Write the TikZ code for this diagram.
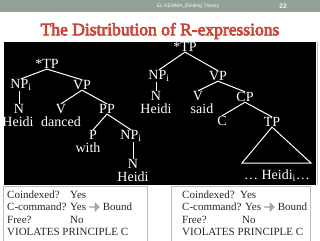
\documentclass[tikz,border=0pt]{standalone}
\usepackage{fontspec}
\setmainfont{Liberation Serif}
\newfontfamily\titlefont{Liberation Serif}[FakeBold=4]
\newfontfamily\hdrfont{Liberation Sans}
\usetikzlibrary{positioning,shapes.arrows}
\definecolor{hdrgray}{HTML}{93A197}
\definecolor{titlered}{HTML}{C9473A}
\definecolor{boxgray}{HTML}{BDBDBD}
\definecolor{arrgray}{HTML}{A8A8A8}
\tikzset{
  lbl/.style={text=white, font=\fontsize{14}{15}\selectfont, inner sep=0.3pt},
  branch/.style={draw=white, line width=1pt},
  infobox/.style={draw=boxgray, line width=0.8pt, anchor=north west, inner sep=0pt},
  infoline/.style={anchor=base west, font=\fontsize{11}{12}\selectfont, inner sep=0pt, text=black!85},
  bigarrow/.style={single arrow, fill=arrgray, draw=arrgray!80!black, line width=0.3pt,
                   minimum height=10pt, minimum width=9pt, single arrow head extend=1.5pt, inner sep=0pt, anchor=west},
}

\begin{document}
\begin{tikzpicture}[x=1pt, y=-1pt]
    \useasboundingbox (0,0) rectangle (320,240);
    % header and title
    \fill[hdrgray] (0,0) rectangle (320,12);
    \node[text=white!92!hdrgray, font=\hdrfont\fontsize{5}{6}\selectfont] (hdr) at (188,6) {EL KEMMA\_Binding Theory};
    \node[text=white!92!hdrgray, font=\hdrfont\bfseries\fontsize{6.5}{7}\selectfont] (pg) at (283,6) {22};
    \node[text=titlered, font=\titlefont\fontsize{17.5}{20}\selectfont] (title) at (160,31) {The Distribution of R-expressions};
    \fill[black] (4,42) rectangle (316,185);
    \draw[boxgray, line width=0.6pt] (317,42) -- (317,185);

    % left tree
    \node[lbl] (tpL) at (47,64) {*TP};
    \node[lbl] (npL) at (21,85) {NP\textsubscript{i}};
    \node[lbl] (vpL) at (82,85) {VP};
    \node[lbl] (nL) at (19,109) {N};
    \node[lbl] (heidiL) at (18,121.5) {Heidi};
    \node[lbl] (vL) at (61,109) {V};
    \node[lbl] (dancedL) at (61,121.5) {danced};
    \node[lbl] (ppL) at (107,109) {PP};
    \node[lbl] (pL) at (93,135) {P};
    \node[lbl] (withL) at (88,148) {with};
    \node[lbl] (np2L) at (131,136) {NP\textsubscript{i}};
    \node[lbl] (n2L) at (133,164) {N};
    \node[lbl] (heidi2L) at (133,176.5) {Heidi};
    \draw[branch] (tpL.south) -- (npL.north); \draw[branch] (tpL.south) -- (vpL.north);
    \draw[branch] (npL.south -| nL) -- (nL.north);
    \draw[branch] (vpL.south) -- (vL.north); \draw[branch] (vpL.south) -- (ppL.north);
    \draw[branch] (ppL.south) -- (pL.north); \draw[branch] (ppL.south) -- (np2L.north);
    \draw[branch] (np2L.south -| n2L) -- (n2L.north);

    % right tree
    \node[lbl] (tpR) at (185,47) {*TP};
    \node[lbl] (npR) at (159,76) {NP\textsubscript{i}};
    \node[lbl] (vpR) at (218,76) {VP};
    \node[lbl] (nR) at (156,96) {N};
    \node[lbl] (heidiR) at (156,108.5) {Heidi};
    \node[lbl] (vR) at (198,96) {V};
    \node[lbl] (saidR) at (202,108.5) {said};
    \node[lbl] (cpR) at (245,97) {CP};
    \node[lbl] (cR) at (222,121) {C};
    \node[lbl] (tp2R) at (272,122) {TP};
    \coordinate (triL) at (242,163);
    \coordinate (triR) at (311,163);
    \node[lbl] (heidi3R) at (277,176) {… Heidi\textsubscript{i}…};
    \draw[branch] (tpR.south) -- (npR.north); \draw[branch] (tpR.south) -- (vpR.north);
    \draw[branch] (npR.south -| nR) -- (nR.north);
    \draw[branch] (vpR.south) -- (vR.north); \draw[branch] (vpR.south) -- (cpR.north);
    \draw[branch] (cpR.south) -- (cR.north); \draw[branch] (cpR.south) -- (tp2R.north);
    \draw[branch, line join=miter] (tp2R.south) -- (triL) -- (triR) -- cycle;

    % info boxes
    \node[infobox, minimum width=144pt, minimum height=56pt] (boxL) at (3,186) {};
    \node[infobox, minimum width=139pt, minimum height=56pt] (boxR) at (171,186) {};
    \node[infoline] (cL1) at (7,198) {\makebox[63pt][l]{Coindexed?}Yes};
    \node[infoline] (cL2) at (7,210.5) {C-command? Yes};
    \node[bigarrow] (arL) at ([xshift=3pt, yshift=3.5pt]cL2.base east) {};
    \node[infoline] (bL) at ([xshift=3pt]arL.east |- cL2.base) {Bound};
    \node[infoline] (cL3) at (7,223) {\makebox[63pt][l]{Free?}No};
    \node[infoline] (cL4) at (7,235.5) {VIOLATES PRINCIPLE C};
    \node[infoline] (cR1) at (182,198) {\makebox[58pt][l]{Coindexed?}Yes};
    \node[infoline] (cR2) at (182,210.5) {C-command? Yes};
    \node[bigarrow] (arR) at ([xshift=3pt, yshift=3.5pt]cR2.base east) {};
    \node[infoline] (bR) at ([xshift=3pt]arR.east |- cR2.base) {Bound};
    \node[infoline] (cR3) at (182,223) {\makebox[60pt][l]{Free?}No};
    \node[infoline] (cR4) at (182,235.5) {VIOLATES PRINCIPLE C};
\end{tikzpicture}
\end{document}
